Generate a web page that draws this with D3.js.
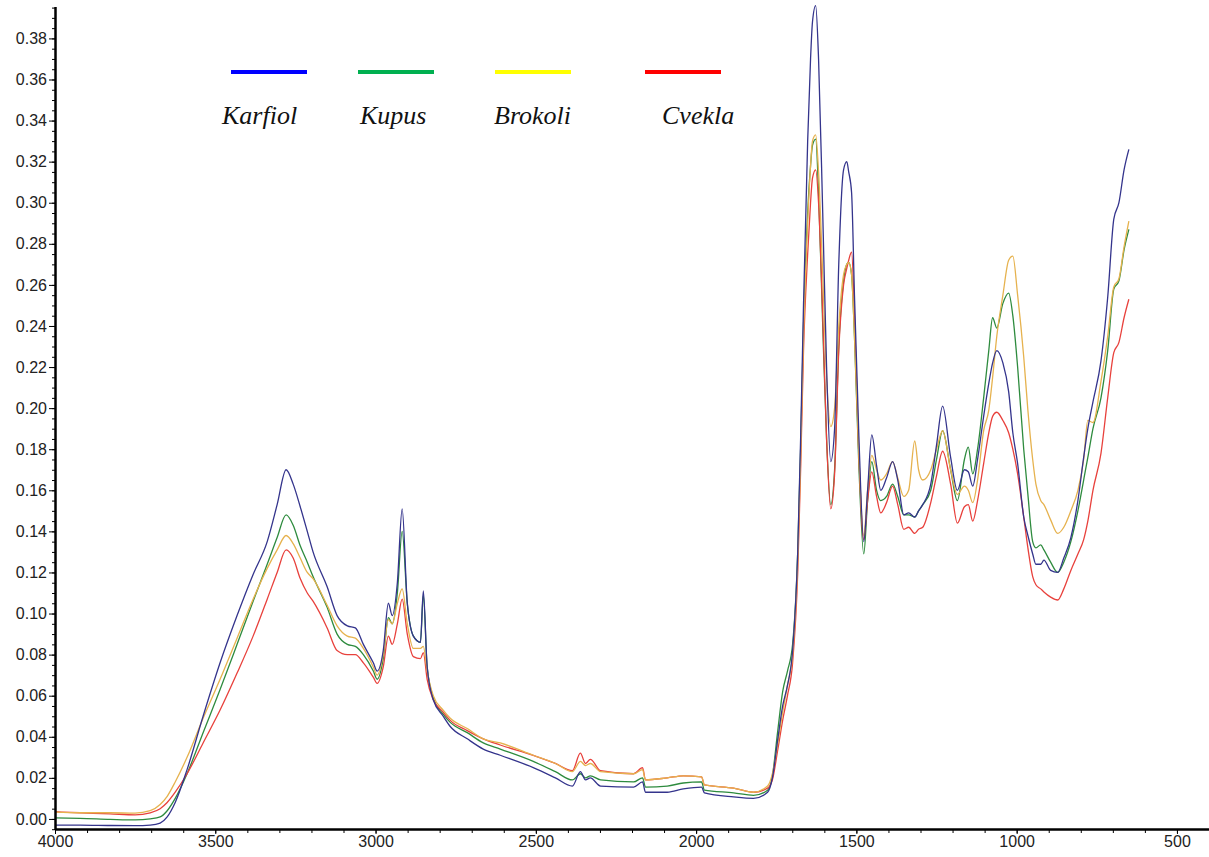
<!DOCTYPE html>
<html>
<head>
<meta charset="utf-8">
<script src="https://cdn.jsdelivr.net/npm/d3@7"></script>
<style>
  body { margin: 0; background: #fff; }
  .axis text { font-family: "Liberation Sans", Arial, Helvetica, sans-serif; font-size: 16px; fill: #222; }
  .legend text { font-family: "Liberation Serif", "Times New Roman", serif; font-style: italic; font-size: 26px; fill: #111; }
</style>
</head>
<body>
<div id="chart"></div>
<script>
// wavenumbers (cm-1), shared by all four spectra
const wavenumbers = [4000, 3922, 3828, 3750, 3703, 3672, 3650, 3625, 3588, 3538,
  3485, 3432, 3382, 3338, 3307, 3279, 3257, 3235, 3213, 3195,
  3151, 3120, 3088, 3063, 3038, 3007, 2995, 2976, 2960, 2948,
  2932, 2917, 2901, 2882, 2860, 2851, 2839, 2820, 2789, 2767,
  2714, 2664, 2611, 2508, 2439, 2386, 2361, 2345, 2330, 2298,
  2195, 2167, 2158, 2090, 2040, 1983, 1974, 1883, 1821, 1777,
  1762, 1746, 1730, 1715, 1699, 1683, 1674, 1665, 1652, 1643,
  1637, 1627, 1618, 1605, 1593, 1580, 1568, 1555, 1540, 1530,
  1524, 1515, 1506, 1493, 1477, 1465, 1452, 1437, 1424, 1406,
  1387, 1371, 1352, 1337, 1318, 1306, 1293, 1268, 1250, 1231,
  1206, 1185, 1163, 1151, 1137, 1122, 1103, 1087, 1075, 1062,
  1043, 1025, 1012, 997, 978, 965, 950, 940, 925, 915,
  894, 872, 853, 831, 809, 791, 778, 762, 737, 716,
  697, 681, 665, 650];

const karfiol = [-0.003, -0.003, -0.0032, -0.0033, -0.003, -0.002, 0.001, 0.008, 0.024, 0.050,
  0.076, 0.099, 0.119, 0.135, 0.153, 0.170, 0.163, 0.152, 0.140, 0.130,
  0.113, 0.099, 0.094, 0.093, 0.085, 0.076, 0.072, 0.082, 0.105, 0.099,
  0.115, 0.151, 0.105, 0.089, 0.086, 0.111, 0.074, 0.058, 0.050, 0.045,
  0.039, 0.034, 0.031, 0.025, 0.020, 0.016, 0.023, 0.019, 0.020, 0.016,
  0.0155, 0.018, 0.013, 0.013, 0.0146, 0.0155, 0.0127, 0.0107, 0.010, 0.013,
  0.020, 0.038, 0.055, 0.065, 0.082, 0.130, 0.185, 0.250, 0.330, 0.370,
  0.388, 0.396, 0.370, 0.295, 0.220, 0.174, 0.190, 0.270, 0.316, 0.320,
  0.315, 0.305, 0.255, 0.190, 0.135, 0.160, 0.187, 0.172, 0.160, 0.166,
  0.174, 0.165, 0.148, 0.149, 0.147, 0.150, 0.153, 0.163, 0.182, 0.201,
  0.176, 0.160, 0.170, 0.169, 0.162, 0.175, 0.196, 0.212, 0.222, 0.228,
  0.222, 0.208, 0.188, 0.173, 0.147, 0.138, 0.129, 0.124, 0.124, 0.126,
  0.121, 0.120, 0.127, 0.137, 0.155, 0.176, 0.190, 0.203, 0.223, 0.254,
  0.292, 0.300, 0.316, 0.326];

const kupus = [0.0005, 0.0003, -0.0002, -0.0005, 0.0, 0.001, 0.004, 0.010, 0.022, 0.042,
  0.063, 0.085, 0.106, 0.124, 0.137, 0.148, 0.143, 0.133, 0.125, 0.118,
  0.103, 0.090, 0.085, 0.084, 0.080, 0.072, 0.068, 0.078, 0.098, 0.095,
  0.110, 0.140, 0.105, 0.089, 0.086, 0.109, 0.074, 0.059, 0.051, 0.047,
  0.042, 0.037, 0.034, 0.028, 0.023, 0.019, 0.022, 0.020, 0.021, 0.019,
  0.018, 0.020, 0.0155, 0.016, 0.0175, 0.018, 0.014, 0.0127, 0.0115, 0.014,
  0.021, 0.042, 0.062, 0.072, 0.085, 0.130, 0.180, 0.240, 0.295, 0.318,
  0.328, 0.331, 0.305, 0.240, 0.185, 0.153, 0.170, 0.230, 0.262, 0.270,
  0.271, 0.265, 0.235, 0.175, 0.129, 0.155, 0.174, 0.160, 0.155, 0.157,
  0.163, 0.157, 0.148, 0.148, 0.147, 0.150, 0.153, 0.160, 0.175, 0.189,
  0.170, 0.155, 0.175, 0.181, 0.168, 0.180, 0.205, 0.228, 0.244, 0.239,
  0.251, 0.256, 0.245, 0.220, 0.180, 0.158, 0.135, 0.132, 0.1334, 0.131,
  0.125, 0.120, 0.125, 0.135, 0.150, 0.165, 0.176, 0.190, 0.205, 0.228,
  0.258, 0.262, 0.277, 0.287];

const brokoli = [0.0033, 0.003, 0.003, 0.0028, 0.004, 0.007, 0.011, 0.018, 0.030, 0.049,
  0.068, 0.088, 0.107, 0.122, 0.131, 0.138, 0.134, 0.127, 0.120, 0.117,
  0.104, 0.094, 0.089, 0.088, 0.083, 0.074, 0.070, 0.080, 0.097, 0.095,
  0.105, 0.112, 0.095, 0.083, 0.083, 0.084, 0.072, 0.060, 0.053, 0.049,
  0.044, 0.039, 0.037, 0.031, 0.027, 0.023, 0.028, 0.026, 0.027, 0.023,
  0.022, 0.024, 0.019, 0.020, 0.021, 0.0205, 0.0166, 0.015, 0.013, 0.016,
  0.022, 0.036, 0.052, 0.065, 0.080, 0.125, 0.175, 0.235, 0.290, 0.318,
  0.330, 0.333, 0.315, 0.265, 0.215, 0.191, 0.200, 0.240, 0.265, 0.270,
  0.271, 0.265, 0.235, 0.180, 0.138, 0.160, 0.177, 0.170, 0.165, 0.168,
  0.174, 0.166, 0.157, 0.160, 0.184, 0.170, 0.165, 0.170, 0.180, 0.189,
  0.170, 0.158, 0.162, 0.160, 0.154, 0.165, 0.189, 0.199, 0.215, 0.235,
  0.255, 0.272, 0.274, 0.255, 0.225, 0.199, 0.175, 0.163, 0.155, 0.153,
  0.1456, 0.139, 0.142, 0.150, 0.160, 0.175, 0.194, 0.193, 0.213, 0.235,
  0.259, 0.263, 0.2785, 0.291];

const cvekla = [0.0035, 0.003, 0.0025, 0.002, 0.003, 0.005, 0.008, 0.013, 0.022, 0.037,
  0.053, 0.071, 0.089, 0.107, 0.120, 0.131, 0.127, 0.117, 0.110, 0.106,
  0.093, 0.082, 0.080, 0.080, 0.076, 0.069, 0.066, 0.074, 0.089, 0.085,
  0.095, 0.107, 0.090, 0.079, 0.078, 0.081, 0.068, 0.058, 0.052, 0.048,
  0.043, 0.039, 0.036, 0.031, 0.027, 0.0235, 0.032, 0.027, 0.029, 0.0235,
  0.022, 0.025, 0.019, 0.020, 0.021, 0.0205, 0.0166, 0.015, 0.013, 0.015,
  0.019, 0.033, 0.048, 0.060, 0.076, 0.120, 0.170, 0.228, 0.275, 0.300,
  0.312, 0.316, 0.300, 0.245, 0.185, 0.151, 0.168, 0.228, 0.260, 0.268,
  0.272, 0.276, 0.245, 0.180, 0.136, 0.155, 0.169, 0.157, 0.149, 0.154,
  0.162, 0.153, 0.141, 0.142, 0.139, 0.141, 0.142, 0.154, 0.167, 0.179,
  0.163, 0.144, 0.152, 0.153, 0.145, 0.155, 0.173, 0.188, 0.196, 0.198,
  0.194, 0.188, 0.180, 0.168, 0.147, 0.132, 0.118, 0.114, 0.112, 0.1105,
  0.108, 0.1066, 0.112, 0.121, 0.129, 0.136, 0.145, 0.160, 0.178, 0.205,
  0.227, 0.232, 0.244, 0.253];

const seriesNames = ["Karfiol", "Kupus", "Brokoli", "Cvekla"];
const seriesValues = [karfiol, kupus, brokoli, cvekla];
const lineColors = ["#34348c", "#2e8b3e", "#e6b24e", "#e8413c"];
const legendColors = ["#0000ff", "#00b050", "#ffff00", "#ff0000"];

const xTicks = [4000, 3500, 3000, 2500, 2000, 1500, 1000, 500];
const yTicks = d3.range(0, 0.381, 0.02);

const W = 1209, H = 857;
const svg = d3.select("#chart").append("svg")
  .attr("width", W)
  .attr("height", H);

// axes placement
const left = 55, bottom = 829;
const x = d3.scaleLinear().domain([4000, 400]).range([left, W]);
const y = d3.scaleLinear().domain([-0.0049, 0.3987]).range([bottom, 0]);

// minor ticks
svg.append("g")
  .attr("class", "axis")
  .attr("transform", `translate(0,${bottom})`)
  .call(d3.axisBottom(x).tickValues(d3.range(4000, 399, -100)).tickSize(4).tickFormat(""))
  .call(g => g.select(".domain").remove());

svg.append("g")
  .attr("class", "axis")
  .attr("transform", `translate(${left},0)`)
  .call(d3.axisLeft(y).tickValues(d3.range(-0.005, 0.3986, 0.005)).tickSize(3).tickFormat(""))
  .call(g => g.select(".domain").remove());

// lines
const line = d3.line()
  .x((d, i) => x(wavenumbers[i]))
  .y(d => y(d))
  .curve(d3.curveMonotoneX);

const drawOrder = [1, 3, 2, 0];
drawOrder.forEach(k => {
  svg.append("path")
    .datum(seriesValues[k])
    .attr("fill", "none")
    .attr("stroke", lineColors[k])
    .attr("stroke-width", 1.3)
    .attr("d", line);
});

// major ticks and labels
svg.append("g")
  .attr("class", "axis")
  .attr("transform", `translate(0,${bottom})`)
  .call(d3.axisBottom(x).tickValues(xTicks).tickSize(5).tickPadding(2).tickFormat(d3.format("d")))
  .call(g => g.select(".domain").attr("stroke-width", 2.5).attr("d", `M${left},0.5H${W}`));

svg.append("g")
  .attr("class", "axis")
  .attr("transform", `translate(${left},0)`)
  .call(d3.axisLeft(y).tickValues(yTicks).tickSize(6).tickPadding(2).tickFormat(d3.format(".2f")))
  .call(g => g.select(".domain").attr("stroke-width", 2.5).attr("d", `M0.5,7V${bottom + 1}`));

// legend
const legendLineX = [231, 358, 495, 645];
const legendTextX = [222, 360, 494, 662];
const legend = svg.append("g").attr("class", "legend");
seriesNames.forEach((name, i) => {
  legend.append("line")
    .attr("x1", legendLineX[i]).attr("x2", legendLineX[i] + 76)
    .attr("y1", 72).attr("y2", 72)
    .attr("stroke", legendColors[i])
    .attr("stroke-width", 4);
  legend.append("text")
    .attr("x", legendTextX[i])
    .attr("y", 124)
    .text(name);
});
</script>
</body>
</html>
